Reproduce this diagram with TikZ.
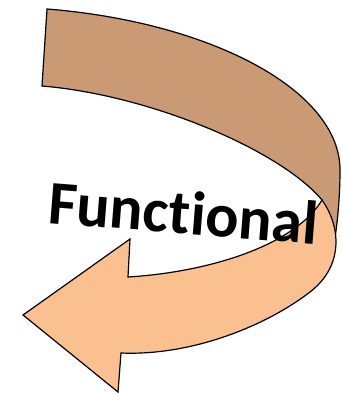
\documentclass[tikz,border=0pt]{standalone}
\usepackage{fontspec}
\setmainfont[Ligatures=NoCommon]{Carlito}
\definecolor{backband}{HTML}{C99A73}
\definecolor{frontband}{HTML}{FAC090}
\tikzset{
  band/.style={draw=black, line width=1.2pt, line join=miter},
  label/.style={font=\bfseries\fontsize{62}{62}\selectfont, inner sep=0pt, anchor=base west}
}
\begin{document}
\begin{tikzpicture}[x=1pt, y=-1pt]
\useasboundingbox (0,0) rectangle (341,393);
% back (upper) band
\path[band, fill=backband]
  (47,9) .. controls (210,22) and (340,90) .. (340,170)
  .. controls (340,200) and (337,225) .. (334,245)
  -- (322,200)
  .. controls (280,150) and (150,95) .. (42,86)
  -- cycle;
% front (lower) band with arrow head
\path[band, fill=frontband]
  (128,277) .. controls (210,272) and (295,245) .. (322,200)
  .. controls (340,225) and (345,265) .. (310,292)
  .. controls (264.5,327) and (190,356) .. (121,353)
  -- (118,392) -- (23,315) -- (130,239) -- cycle;
\node[label, rotate=-4.5] (t) at (47,223) {Functional};
\end{tikzpicture}
\end{document}
